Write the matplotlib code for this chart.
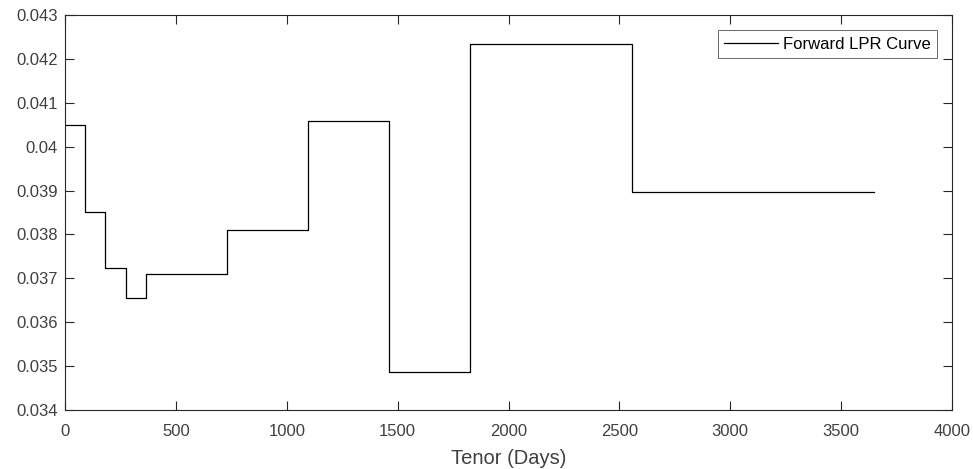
import matplotlib
matplotlib.use("Agg")
import matplotlib.pyplot as plt

tenor_days = [0, 91, 182, 273, 365, 730, 1095, 1460, 1825, 2555, 3650]
forward_rates = [0.04049, 0.03851, 0.03724, 0.03656, 0.03710, 0.03810,
                 0.04058, 0.03486, 0.04234, 0.03896, 0.03896]
x_ticks = [0, 500, 1000, 1500, 2000, 2500, 3000, 3500, 4000]
y_ticks = [0.034, 0.035, 0.036, 0.037, 0.038, 0.039, 0.040, 0.041, 0.042, 0.043]
y_tick_labels = ["0.034", "0.035", "0.036", "0.037", "0.038", "0.039", "0.04",
                 "0.041", "0.042", "0.043"]

plt.rcParams['font.family'] = ['Liberation Sans', 'DejaVu Sans']
fig = plt.figure(figsize=(9.73, 4.69), dpi=100)
ax = fig.add_axes([65/973, 1 - 410/469, (952 - 65)/973, (410 - 15)/469])

ax.plot(tenor_days, forward_rates, drawstyle='steps-post', color='black',
        linewidth=0.9, label='Forward LPR Curve')

ax.set_xlim(0, 4000)
ax.set_ylim(0.034, 0.043)
ax.set_xticks(x_ticks)
ax.set_xticklabels([str(t) for t in x_ticks])
ax.set_yticks(y_ticks)
ax.set_yticklabels(y_tick_labels)

axis_color = '#262626'
for s in ax.spines.values():
    s.set_color(axis_color)
    s.set_linewidth(0.8)
ax.tick_params(direction='in', length=6.5, width=0.8, color=axis_color,
               labelcolor='#404040', labelsize=12, top=True, right=True)
ax.tick_params(axis='x', pad=10)
ax.tick_params(axis='y', pad=5)

ax.set_xlabel('Tenor (Days)', fontsize=14.5, color='#404040', labelpad=7)

leg = ax.legend(loc='upper right', fontsize=12, frameon=True, fancybox=False,
                edgecolor='#262626', borderaxespad=0.9, handlelength=3.2,
                handletextpad=0.3, borderpad=0.4)
leg.get_frame().set_linewidth(0.6)

fig.savefig('out.png', dpi=100)
